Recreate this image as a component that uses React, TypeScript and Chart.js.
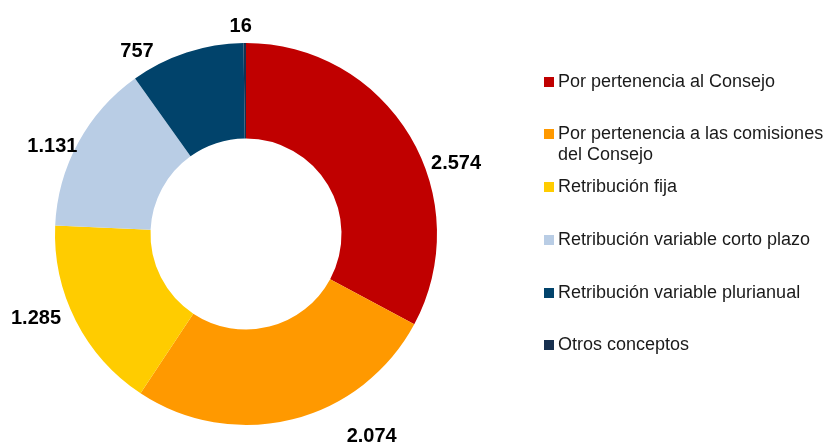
import React, { useEffect, useRef } from "react";
import { Chart, registerables } from "chart.js";

Chart.register(...registerables);

const categories = [
  "Por pertenencia al Consejo",
  "Por pertenencia a las comisiones del Consejo",
  "Retribución fija",
  "Retribución variable corto plazo",
  "Retribución variable plurianual",
  "Otros conceptos",
];
const legendLines = [
  ["Por pertenencia al Consejo"],
  ["Por pertenencia a las comisiones", "del Consejo"],
  ["Retribución fija"],
  ["Retribución variable corto plazo"],
  ["Retribución variable plurianual"],
  ["Otros conceptos"],
];
const values = [2574, 2074, 1285, 1131, 757, 16];
const valueLabels = ["2.574", "2.074", "1.285", "1.131", "757", "16"];
const colors = ["#C00000", "#FF9900", "#FFCC00", "#B9CDE5", "#01436B", "#17304F"];

// label placement style: angular nudge (deg, clockwise) and gap beyond the outer edge (px)
const labelAngleNudge = [12, -17.9, 5.3, -3.9, -12.5, -1.1];
const labelRadialGap = [31, 46, 35, 22, 23, 17.6];

const FONT = "'Liberation Sans', Arial, Helvetica, sans-serif";

const outsideLabels = {
  id: "outsideLabels",
  afterDatasetsDraw(chart: any) {
    const meta = chart.getDatasetMeta(0);
    const ctx = chart.ctx;
    ctx.save();
    ctx.font = `bold 20px ${FONT}`;
    ctx.fillStyle = "#000";
    ctx.textAlign = "center";
    ctx.textBaseline = "alphabetic";
    meta.data.forEach((arc: any, i: number) => {
      const p = arc.getProps(["x", "y", "startAngle", "endAngle", "outerRadius"], true);
      const mid = (p.startAngle + p.endAngle) / 2 + (labelAngleNudge[i] * Math.PI) / 180;
      const r = p.outerRadius + labelRadialGap[i];
      const px = p.x + Math.cos(mid) * r;
      const py = p.y + Math.sin(mid) * r;
      ctx.fillText(valueLabels[i], px, py + 7);
    });
    ctx.restore();
  },
};

export default function App() {
  const ref = useRef<HTMLCanvasElement | null>(null);
  useEffect(() => {
    document.body.style.margin = "0";
    if (!ref.current) return;
    const chart = new Chart(ref.current, {
      type: "doughnut",
      data: {
        labels: categories,
        datasets: [
          {
            data: values,
            backgroundColor: colors,
            borderWidth: 0,
          },
        ],
      },
      options: {
        responsive: false,
        animation: false,
        cutout: "50%",
        layout: { padding: { left: 55, right: 387, top: 43, bottom: 17 } },
        plugins: {
          legend: { display: false },
          tooltip: { enabled: false },
        },
      },
      plugins: [outsideLabels],
    });
    return () => chart.destroy();
  }, []);

  return (
    <div style={{ position: "absolute", left: 0, top: 0, width: 824, height: 442, background: "#fff", overflow: "hidden" }}>
      <canvas ref={ref} width={824} height={442} style={{ display: "block", width: 824, height: 442 }} />
      <div style={{ position: "absolute", left: 544, top: 70.5, fontFamily: FONT, fontSize: 18, lineHeight: "21px", color: "#1a1a1a" }}>
        {legendLines.map((lines, i) => (
          <div key={i} style={{ height: 52.8, display: "flex", alignItems: "flex-start", whiteSpace: "nowrap" }}>
            <span style={{ width: 10, height: 10, background: colors[i], marginTop: 6, marginRight: 4, flex: "0 0 auto" }} />
            <span>
              {lines.map((l, j) => (
                <div key={j}>{l}</div>
              ))}
            </span>
          </div>
        ))}
      </div>
    </div>
  );
}
